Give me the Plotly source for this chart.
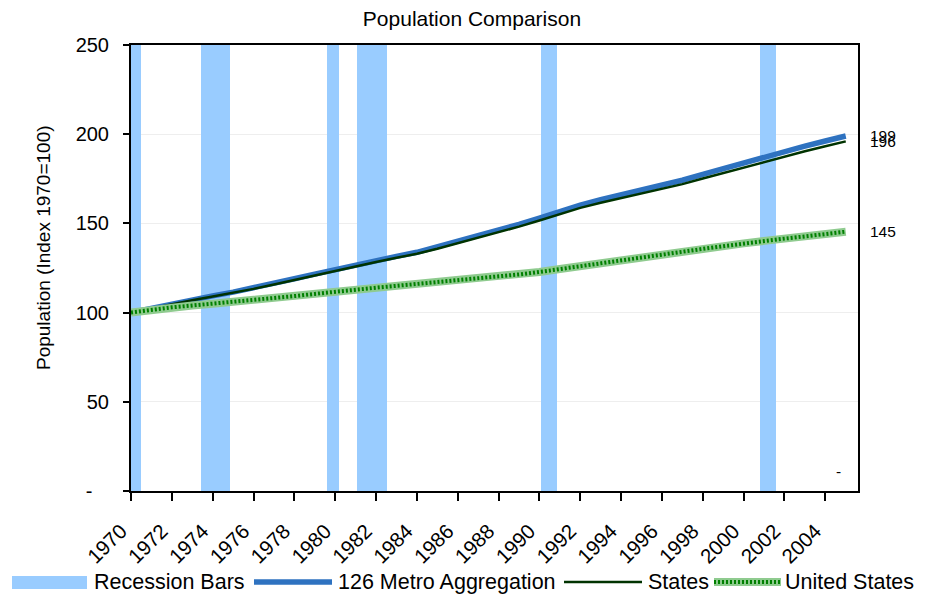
import plotly.graph_objects as go

# ---------------- data ----------------
years = list(range(1970, 2006))
metro = [100, 102.5, 104.8, 107.2, 109.4, 111.5, 113.8, 116.3, 119.0, 121.6,
         124.2, 126.8, 129.2, 131.5, 133.8, 136.8, 139.9, 143.0, 146.0, 149.5,
         153.0, 156.8, 160.3, 163.3, 166.0, 168.5, 171.0, 174.2, 177.5, 180.8,
         184.0, 187.2, 190.3, 193.3, 196.2, 199.0]
states = [100, 102.4, 104.6, 106.9, 109.0, 111.1, 113.3, 115.8, 118.4, 121.0,
          123.6, 126.1, 128.4, 130.7, 133.0, 135.8, 138.8, 141.8, 144.8, 148.2,
          151.6, 155.3, 158.7, 161.6, 164.2, 166.6, 169.0, 172.0, 175.2, 178.3,
          181.4, 184.5, 187.5, 190.4, 193.2, 196.0]
us = [100, 101.7, 102.95, 103.98, 104.92, 106.0, 107.03, 108.12, 109.25, 110.48,
      111.76, 112.89, 113.97, 115.0, 115.99, 117.02, 118.1, 119.18, 120.27, 121.4,
      122.77, 124.45, 126.17, 127.84, 129.42, 130.99, 132.51, 134.09, 135.71, 137.24,
      138.81, 140.19, 141.47, 142.7, 144.03, 145.35]
rec_start = [1969.5, 1973.43, 1979.6, 1981.08, 1990.1, 2000.78]
rec_end = [1970.5, 1974.85, 1980.2, 1982.55, 1990.88, 2001.57]
rec_top = 250
y_tickvals = [0, 50, 100, 150, 200, 250]
y_ticktext = ["-\u00a0\u00a0\u00a0", "50", "100", "150", "200", "250"]
x_tickvals = list(range(1970, 2006, 2))

# ---------------- styles ----------------
FONT = "Liberation Sans, Arial, sans-serif"
REC_COLOR = "#99CCFF"
METRO_COLOR = "#2E72C0"
STATES_COLOR = "#003300"
US_LIGHT = "#8FCB8F"
US_DARK = "#008000"

# plot area in pixels: x 131..858, y 45..491
L, R, T, B = 131, 858, 45, 491
W, H = 931, 594


def px(x):
    return (x - L) / (R - L)


def py(y):
    return (B - y) / (B - T)


fig = go.Figure()

centers = [(s + e) / 2 for s, e in zip(rec_start, rec_end)]
widths = [e - s for s, e in zip(rec_start, rec_end)]
fig.add_trace(go.Bar(x=centers, y=[rec_top] * len(centers), width=widths,
                     marker=dict(color=REC_COLOR, line=dict(width=0)),
                     name="Recession Bars", showlegend=False, hoverinfo="skip"))
fig.add_trace(go.Scatter(x=years, y=metro, mode="lines", name="126 Metro Aggregation",
                         line=dict(color=METRO_COLOR, width=5.5), showlegend=False))
fig.add_trace(go.Scatter(x=years, y=states, mode="lines", name="States",
                         line=dict(color=STATES_COLOR, width=2.5), showlegend=False))
fig.add_trace(go.Scatter(x=years, y=us, mode="lines", name="United States",
                         line=dict(color=US_LIGHT, width=8), showlegend=False))
fig.add_trace(go.Scatter(x=years, y=us, mode="lines", name="United States",
                         line=dict(color=US_DARK, width=4, dash="2px,2px"),
                         showlegend=False, hoverinfo="skip"))

annotations = []
# end labels
for v in [metro[-1], states[-1], us[-1]]:
    annotations.append(dict(x=px(868), xref="paper", y=v, yref="y", text=f"{round(v)}",
                            showarrow=False, xanchor="left", yanchor="middle",
                            font=dict(size=15.5, color="black", family=FONT)))
annotations.append(dict(x=px(838), xref="paper", y=py(471), yref="paper", text="-",
                        showarrow=False, xanchor="center", yanchor="middle",
                        font=dict(size=15.5, color="black", family=FONT)))
# y axis title
annotations.append(dict(x=px(43), xref="paper", y=py(248), yref="paper",
                        text="Population (Index 1970=100)", textangle=-90,
                        showarrow=False, xanchor="center", yanchor="middle",
                        font=dict(size=19, color="black", family=FONT)))

# manual legend
LY = 582
shapes = [
    dict(type="rect", xref="paper", yref="paper", x0=px(12), x1=px(87),
         y0=py(576), y1=py(589), fillcolor=REC_COLOR, line=dict(width=0)),
    dict(type="line", xref="paper", yref="paper", x0=px(254), x1=px(332),
         y0=py(LY), y1=py(LY), line=dict(color=METRO_COLOR, width=5.5)),
    dict(type="line", xref="paper", yref="paper", x0=px(564), x1=px(642),
         y0=py(LY), y1=py(LY), line=dict(color=STATES_COLOR, width=2.5)),
    dict(type="line", xref="paper", yref="paper", x0=px(714), x1=px(781),
         y0=py(LY), y1=py(LY), line=dict(color=US_LIGHT, width=8)),
    dict(type="line", xref="paper", yref="paper", x0=px(714), x1=px(781),
         y0=py(LY), y1=py(LY), line=dict(color=US_DARK, width=4, dash="2px,2px")),
]
for name, x0 in [("Recession Bars", 92), ("126 Metro Aggregation", 336),
                 ("States", 646), ("United States", 783)]:
    annotations.append(dict(x=px(x0), xref="paper", y=py(LY), yref="paper", text=name,
                            showarrow=False, xanchor="left", yanchor="middle",
                            font=dict(size=21.5, color="black", family=FONT)))

fig.update_layout(
    width=W, height=H,
    margin=dict(l=L, r=W - R, t=T, b=H - B, autoexpand=False),
    paper_bgcolor="white", plot_bgcolor="white",
    font=dict(family=FONT, color="black"),
    title=dict(text="Population Comparison", x=472 / W, xref="container", xanchor="center",
               y=1 - 19 / H, yref="container", yanchor="middle",
               font=dict(size=21, color="black", family=FONT)),
    showlegend=False,
    bargap=0,
    annotations=annotations,
    shapes=shapes,
    xaxis=dict(range=[1970, 2005.6], tickmode="array", tickvals=x_tickvals,
               ticktext=[str(v) for v in x_tickvals], tickangle=-45,
               ticks="outside", ticklen=8, tickwidth=2, tickcolor="black",
               ticklabelstandoff=10, ticklabelshift=-10,
               showline=True, linecolor="black", linewidth=2, mirror=True,
               showgrid=False, zeroline=False,
               tickfont=dict(size=20.5, family=FONT, color="black")),
    yaxis=dict(range=[0, 250], tickmode="array", tickvals=y_tickvals, ticktext=y_ticktext,
               ticks="outside", ticklen=6, tickwidth=2, tickcolor="black",
               ticklabelstandoff=10,
               showline=True, linecolor="black", linewidth=2, mirror=True,
               showgrid=True, gridcolor="#EEEEEE", gridwidth=1, zeroline=False,
               tickfont=dict(size=20, family=FONT, color="black")),
)

fig.write_html("out.html", config={"displayModeBar": False},
               post_script="document.body.style.margin='0';document.body.style.overflow='hidden';")
